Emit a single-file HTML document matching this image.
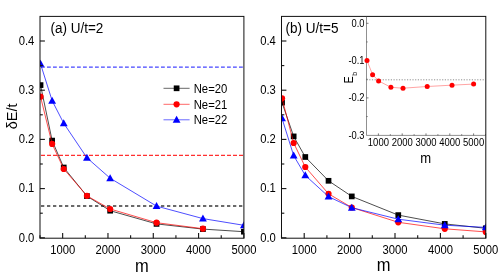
<!DOCTYPE html><html><head><meta charset="utf-8"><style>html,body{margin:0;padding:0;background:#fff}svg{display:block;filter:blur(0.45px)}text{font-family:"Liberation Sans", sans-serif;fill:#000}</style></head><body>
<svg width="498" height="277" viewBox="0 0 498 277">
<rect width="498" height="277" fill="#fff"/>
<line x1="41.0" y1="67.15" x2="243.9" y2="67.15" stroke="#4646ff" stroke-width="1.4" stroke-dasharray="3.8 2.2"/>
<line x1="41.0" y1="155.4" x2="243.9" y2="155.4" stroke="#ff3030" stroke-width="1.1" stroke-dasharray="4 2"/>
<line x1="41.0" y1="206.0" x2="243.9" y2="206.0" stroke="#3a3a3a" stroke-width="1.45" stroke-dasharray="3.3 2.7"/>
<clipPath id="cl"><rect x="40.0" y="16.4" width="203.9" height="221.79999999999998"/></clipPath>
<g clip-path="url(#cl)">
<polyline points="40.54,85.10 52.14,140.60 63.74,167.50 86.94,196.10 110.14,210.70 156.54,223.90 202.94,229.10 243.90,231.70" fill="none" stroke="#000" stroke-width="0.7"/>
<rect x="37.69" y="82.25" width="5.7" height="5.7" fill="#000"/>
<rect x="49.29" y="137.75" width="5.7" height="5.7" fill="#000"/>
<rect x="60.89" y="164.65" width="5.7" height="5.7" fill="#000"/>
<rect x="84.09" y="193.25" width="5.7" height="5.7" fill="#000"/>
<rect x="107.29" y="207.85" width="5.7" height="5.7" fill="#000"/>
<rect x="153.69" y="221.05" width="5.7" height="5.7" fill="#000"/>
<rect x="200.09" y="226.25" width="5.7" height="5.7" fill="#000"/>
<rect x="241.05" y="228.85" width="5.7" height="5.7" fill="#000"/>
<polyline points="40.54,96.70 52.14,143.90 63.74,169.00 86.94,195.80 110.14,209.00 156.54,222.70 202.94,228.70" fill="none" stroke="#f00" stroke-width="0.7"/>
<circle cx="40.54" cy="96.70" r="3.1" fill="#f00"/>
<circle cx="52.14" cy="143.90" r="3.1" fill="#f00"/>
<circle cx="63.74" cy="169.00" r="3.1" fill="#f00"/>
<circle cx="86.94" cy="195.80" r="3.1" fill="#f00"/>
<circle cx="110.14" cy="209.00" r="3.1" fill="#f00"/>
<circle cx="156.54" cy="222.70" r="3.1" fill="#f00"/>
<circle cx="202.94" cy="228.70" r="3.1" fill="#f00"/>
<polyline points="40.54,63.90 52.14,100.70 63.74,123.30 86.94,157.80 110.14,178.20 156.54,206.10 202.94,218.60 243.90,225.30" fill="none" stroke="#00f" stroke-width="0.7"/>
<path d="M40.54 59.84L44.44 66.84L36.64 66.84Z" fill="#00f"/>
<path d="M52.14 96.64L56.04 103.64L48.24 103.64Z" fill="#00f"/>
<path d="M63.74 119.24L67.64 126.24L59.84 126.24Z" fill="#00f"/>
<path d="M86.94 153.74L90.84 160.74L83.04 160.74Z" fill="#00f"/>
<path d="M110.14 174.14L114.04 181.14L106.24 181.14Z" fill="#00f"/>
<path d="M156.54 202.04L160.44 209.04L152.64 209.04Z" fill="#00f"/>
<path d="M202.94 214.54L206.84 221.54L199.04 221.54Z" fill="#00f"/>
<path d="M243.90 221.24L247.80 228.24L240.00 228.24Z" fill="#00f"/>
</g>
<rect x="40.0" y="16.4" width="203.9" height="221.79999999999998" fill="none" stroke="#111" stroke-width="1"/>
<line x1="40.0" y1="237.80" x2="44.9" y2="237.80" stroke="#111" stroke-width="1.1"/>
<text transform="translate(34.30,241.50) scale(0.865,1)" text-anchor="end" font-size="13.0" >0.0</text>
<line x1="40.0" y1="213.20" x2="42.8" y2="213.20" stroke="#111" stroke-width="1.1"/>
<line x1="40.0" y1="188.60" x2="44.9" y2="188.60" stroke="#111" stroke-width="1.1"/>
<text transform="translate(34.30,192.30) scale(0.865,1)" text-anchor="end" font-size="13.0" >0.1</text>
<line x1="40.0" y1="164.00" x2="42.8" y2="164.00" stroke="#111" stroke-width="1.1"/>
<line x1="40.0" y1="139.40" x2="44.9" y2="139.40" stroke="#111" stroke-width="1.1"/>
<text transform="translate(34.30,143.10) scale(0.865,1)" text-anchor="end" font-size="13.0" >0.2</text>
<line x1="40.0" y1="114.80" x2="42.8" y2="114.80" stroke="#111" stroke-width="1.1"/>
<line x1="40.0" y1="90.20" x2="44.9" y2="90.20" stroke="#111" stroke-width="1.1"/>
<text transform="translate(34.30,93.90) scale(0.865,1)" text-anchor="end" font-size="13.0" >0.3</text>
<line x1="40.0" y1="65.60" x2="42.8" y2="65.60" stroke="#111" stroke-width="1.1"/>
<line x1="40.0" y1="41.00" x2="44.9" y2="41.00" stroke="#111" stroke-width="1.1"/>
<text transform="translate(34.30,44.70) scale(0.865,1)" text-anchor="end" font-size="13.0" >0.4</text>
<line x1="40.00" y1="238.2" x2="40.00" y2="235.29999999999998" stroke="#111" stroke-width="1.1"/>
<line x1="62.66" y1="238.2" x2="62.66" y2="232.89999999999998" stroke="#111" stroke-width="1.1"/>
<text transform="translate(62.66,254.20) scale(0.865,1)" text-anchor="middle" font-size="13.0" >1000</text>
<line x1="85.31" y1="238.2" x2="85.31" y2="235.29999999999998" stroke="#111" stroke-width="1.1"/>
<line x1="107.97" y1="238.2" x2="107.97" y2="232.89999999999998" stroke="#111" stroke-width="1.1"/>
<text transform="translate(107.97,254.20) scale(0.865,1)" text-anchor="middle" font-size="13.0" >2000</text>
<line x1="130.62" y1="238.2" x2="130.62" y2="235.29999999999998" stroke="#111" stroke-width="1.1"/>
<line x1="153.28" y1="238.2" x2="153.28" y2="232.89999999999998" stroke="#111" stroke-width="1.1"/>
<text transform="translate(153.28,254.20) scale(0.865,1)" text-anchor="middle" font-size="13.0" >3000</text>
<line x1="175.93" y1="238.2" x2="175.93" y2="235.29999999999998" stroke="#111" stroke-width="1.1"/>
<line x1="198.59" y1="238.2" x2="198.59" y2="232.89999999999998" stroke="#111" stroke-width="1.1"/>
<text transform="translate(198.59,254.20) scale(0.865,1)" text-anchor="middle" font-size="13.0" >4000</text>
<line x1="221.24" y1="238.2" x2="221.24" y2="235.29999999999998" stroke="#111" stroke-width="1.1"/>
<line x1="243.90" y1="238.2" x2="243.90" y2="232.89999999999998" stroke="#111" stroke-width="1.1"/>
<text transform="translate(243.90,254.20) scale(0.865,1)" text-anchor="middle" font-size="13.0" >5000</text>
<text transform="translate(141.95,271.70) scale(0.877,1)" text-anchor="middle" font-size="18.8" >m</text>
<text transform="translate(50.40,32.70) scale(0.895,1)" text-anchor="start" font-size="15.1" >(a) U/t=2</text>
<text transform="translate(16.7,129.2) rotate(-90) scale(0.985,1)" font-size="14.7">δE/t</text>
<line x1="163.5" y1="88.3" x2="189.6" y2="88.3" stroke="#000" stroke-width="0.6"/>
<rect x="173.75" y="85.45" width="5.7" height="5.7" fill="#000"/>
<text transform="translate(193.70,92.60) scale(0.85,1)" text-anchor="start" font-size="13.3" >Ne=20</text>
<line x1="163.5" y1="104.3" x2="189.6" y2="104.3" stroke="#f00" stroke-width="0.6"/>
<circle cx="176.60" cy="104.30" r="3.1" fill="#f00"/>
<text transform="translate(193.70,108.60) scale(0.85,1)" text-anchor="start" font-size="13.3" >Ne=21</text>
<line x1="163.5" y1="119.8" x2="189.6" y2="119.8" stroke="#00f" stroke-width="0.6"/>
<path d="M176.60 115.74L180.50 122.74L172.70 122.74Z" fill="#00f"/>
<text transform="translate(193.70,124.10) scale(0.85,1)" text-anchor="start" font-size="13.3" >Ne=22</text>
<clipPath id="cr"><rect x="281.5" y="16.4" width="204.3" height="221.79999999999998"/></clipPath>
<g clip-path="url(#cr)">
<polyline points="282.04,102.60 293.67,136.40 305.29,157.00 328.53,180.80 351.78,196.40 398.27,215.10 444.76,223.90 485.80,228.30" fill="none" stroke="#000" stroke-width="0.7"/>
<rect x="279.19" y="99.75" width="5.7" height="5.7" fill="#000"/>
<rect x="290.82" y="133.55" width="5.7" height="5.7" fill="#000"/>
<rect x="302.44" y="154.15" width="5.7" height="5.7" fill="#000"/>
<rect x="325.68" y="177.95" width="5.7" height="5.7" fill="#000"/>
<rect x="348.93" y="193.55" width="5.7" height="5.7" fill="#000"/>
<rect x="395.42" y="212.25" width="5.7" height="5.7" fill="#000"/>
<rect x="441.91" y="221.05" width="5.7" height="5.7" fill="#000"/>
<rect x="482.95" y="225.45" width="5.7" height="5.7" fill="#000"/>
<polyline points="282.04,98.30 293.67,143.00 305.29,167.00 328.53,193.80 351.78,207.50 398.27,222.30 444.76,228.80 485.80,231.90" fill="none" stroke="#f00" stroke-width="0.7"/>
<circle cx="282.04" cy="98.30" r="3.1" fill="#f00"/>
<circle cx="293.67" cy="143.00" r="3.1" fill="#f00"/>
<circle cx="305.29" cy="167.00" r="3.1" fill="#f00"/>
<circle cx="328.53" cy="193.80" r="3.1" fill="#f00"/>
<circle cx="351.78" cy="207.50" r="3.1" fill="#f00"/>
<circle cx="398.27" cy="222.30" r="3.1" fill="#f00"/>
<circle cx="444.76" cy="228.80" r="3.1" fill="#f00"/>
<circle cx="485.80" cy="231.90" r="3.1" fill="#f00"/>
<polyline points="282.04,118.40 293.67,155.60 305.29,175.40 328.53,196.60 351.78,207.70 398.27,219.20 444.76,225.20 485.80,227.40" fill="none" stroke="#00f" stroke-width="0.7"/>
<path d="M282.04 114.34L285.94 121.34L278.14 121.34Z" fill="#00f"/>
<path d="M293.67 151.54L297.57 158.54L289.77 158.54Z" fill="#00f"/>
<path d="M305.29 171.34L309.19 178.34L301.39 178.34Z" fill="#00f"/>
<path d="M328.53 192.54L332.43 199.54L324.63 199.54Z" fill="#00f"/>
<path d="M351.78 203.64L355.68 210.64L347.88 210.64Z" fill="#00f"/>
<path d="M398.27 215.14L402.17 222.14L394.37 222.14Z" fill="#00f"/>
<path d="M444.76 221.14L448.66 228.14L440.86 228.14Z" fill="#00f"/>
<path d="M485.80 223.34L489.70 230.34L481.90 230.34Z" fill="#00f"/>
</g>
<rect x="281.5" y="16.4" width="204.3" height="221.79999999999998" fill="none" stroke="#111" stroke-width="1"/>
<line x1="281.5" y1="237.80" x2="286.4" y2="237.80" stroke="#111" stroke-width="1.1"/>
<text transform="translate(275.80,241.50) scale(0.865,1)" text-anchor="end" font-size="13.0" >0.0</text>
<line x1="281.5" y1="213.20" x2="284.3" y2="213.20" stroke="#111" stroke-width="1.1"/>
<line x1="281.5" y1="188.60" x2="286.4" y2="188.60" stroke="#111" stroke-width="1.1"/>
<text transform="translate(275.80,192.30) scale(0.865,1)" text-anchor="end" font-size="13.0" >0.1</text>
<line x1="281.5" y1="164.00" x2="284.3" y2="164.00" stroke="#111" stroke-width="1.1"/>
<line x1="281.5" y1="139.40" x2="286.4" y2="139.40" stroke="#111" stroke-width="1.1"/>
<text transform="translate(275.80,143.10) scale(0.865,1)" text-anchor="end" font-size="13.0" >0.2</text>
<line x1="281.5" y1="114.80" x2="284.3" y2="114.80" stroke="#111" stroke-width="1.1"/>
<line x1="281.5" y1="90.20" x2="286.4" y2="90.20" stroke="#111" stroke-width="1.1"/>
<text transform="translate(275.80,93.90) scale(0.865,1)" text-anchor="end" font-size="13.0" >0.3</text>
<line x1="281.5" y1="65.60" x2="284.3" y2="65.60" stroke="#111" stroke-width="1.1"/>
<line x1="281.5" y1="41.00" x2="286.4" y2="41.00" stroke="#111" stroke-width="1.1"/>
<text transform="translate(275.80,44.70) scale(0.865,1)" text-anchor="end" font-size="13.0" >0.4</text>
<line x1="281.50" y1="238.2" x2="281.50" y2="235.29999999999998" stroke="#111" stroke-width="1.1"/>
<line x1="304.20" y1="238.2" x2="304.20" y2="232.89999999999998" stroke="#111" stroke-width="1.1"/>
<text transform="translate(304.20,254.20) scale(0.865,1)" text-anchor="middle" font-size="13.0" >1000</text>
<line x1="326.90" y1="238.2" x2="326.90" y2="235.29999999999998" stroke="#111" stroke-width="1.1"/>
<line x1="349.60" y1="238.2" x2="349.60" y2="232.89999999999998" stroke="#111" stroke-width="1.1"/>
<text transform="translate(349.60,254.20) scale(0.865,1)" text-anchor="middle" font-size="13.0" >2000</text>
<line x1="372.30" y1="238.2" x2="372.30" y2="235.29999999999998" stroke="#111" stroke-width="1.1"/>
<line x1="395.00" y1="238.2" x2="395.00" y2="232.89999999999998" stroke="#111" stroke-width="1.1"/>
<text transform="translate(395.00,254.20) scale(0.865,1)" text-anchor="middle" font-size="13.0" >3000</text>
<line x1="417.70" y1="238.2" x2="417.70" y2="235.29999999999998" stroke="#111" stroke-width="1.1"/>
<line x1="440.40" y1="238.2" x2="440.40" y2="232.89999999999998" stroke="#111" stroke-width="1.1"/>
<text transform="translate(440.40,254.20) scale(0.865,1)" text-anchor="middle" font-size="13.0" >4000</text>
<line x1="463.10" y1="238.2" x2="463.10" y2="235.29999999999998" stroke="#111" stroke-width="1.1"/>
<line x1="485.80" y1="238.2" x2="485.80" y2="232.89999999999998" stroke="#111" stroke-width="1.1"/>
<text transform="translate(485.80,254.20) scale(0.865,1)" text-anchor="middle" font-size="13.0" >5000</text>
<text transform="translate(383.65,270.60) scale(0.877,1)" text-anchor="middle" font-size="18.8" >m</text>
<text transform="translate(285.50,33.10) scale(0.885,1)" text-anchor="start" font-size="15.3" >(b) U/t=5</text>
<line x1="366.5" y1="16.4" x2="366.5" y2="135.4" stroke="#444" stroke-width="0.6"/>
<line x1="366.5" y1="135.4" x2="485.8" y2="135.4" stroke="#444" stroke-width="0.6"/>
<line x1="366.5" y1="23.30" x2="368.5" y2="23.30" stroke="#222" stroke-width="0.6"/>
<text transform="translate(364.50,26.80) scale(0.85,1)" text-anchor="end" font-size="11" >0.0</text>
<line x1="366.5" y1="41.95" x2="367.7" y2="41.95" stroke="#222" stroke-width="0.6"/>
<line x1="366.5" y1="60.60" x2="368.5" y2="60.60" stroke="#222" stroke-width="0.6"/>
<text transform="translate(364.50,64.10) scale(0.85,1)" text-anchor="end" font-size="11" >-0.1</text>
<line x1="366.5" y1="79.25" x2="367.7" y2="79.25" stroke="#222" stroke-width="0.6"/>
<line x1="366.5" y1="97.90" x2="368.5" y2="97.90" stroke="#222" stroke-width="0.6"/>
<text transform="translate(364.50,101.40) scale(0.85,1)" text-anchor="end" font-size="11" >-0.2</text>
<line x1="366.5" y1="116.55" x2="367.7" y2="116.55" stroke="#222" stroke-width="0.6"/>
<text transform="translate(364.50,138.70) scale(0.85,1)" text-anchor="end" font-size="11" >-0.3</text>
<line x1="378.40" y1="135.4" x2="378.40" y2="133.4" stroke="#222" stroke-width="0.6"/>
<text transform="translate(378.40,145.80) scale(0.95,1)" text-anchor="middle" font-size="10" >1000</text>
<line x1="390.30" y1="135.4" x2="390.30" y2="134.20000000000002" stroke="#222" stroke-width="0.6"/>
<line x1="402.20" y1="135.4" x2="402.20" y2="133.4" stroke="#222" stroke-width="0.6"/>
<text transform="translate(402.20,145.80) scale(0.95,1)" text-anchor="middle" font-size="10" >2000</text>
<line x1="414.10" y1="135.4" x2="414.10" y2="134.20000000000002" stroke="#222" stroke-width="0.6"/>
<line x1="426.00" y1="135.4" x2="426.00" y2="133.4" stroke="#222" stroke-width="0.6"/>
<text transform="translate(426.00,145.80) scale(0.95,1)" text-anchor="middle" font-size="10" >3000</text>
<line x1="437.90" y1="135.4" x2="437.90" y2="134.20000000000002" stroke="#222" stroke-width="0.6"/>
<line x1="449.80" y1="135.4" x2="449.80" y2="133.4" stroke="#222" stroke-width="0.6"/>
<text transform="translate(449.80,145.80) scale(0.95,1)" text-anchor="middle" font-size="10" >4000</text>
<line x1="461.70" y1="135.4" x2="461.70" y2="134.20000000000002" stroke="#222" stroke-width="0.6"/>
<line x1="473.60" y1="135.4" x2="473.60" y2="133.4" stroke="#222" stroke-width="0.6"/>
<text transform="translate(473.60,145.80) scale(0.95,1)" text-anchor="middle" font-size="10" >5000</text>
<line x1="485.50" y1="135.4" x2="485.50" y2="134.20000000000002" stroke="#222" stroke-width="0.6"/>
<text transform="translate(425.70,162.50) scale(0.86,1)" text-anchor="middle" font-size="15.2" >m</text>
<line x1="366.5" y1="79.8" x2="485.8" y2="79.8" stroke="#555" stroke-width="0.65" stroke-dasharray="1.2 1.5"/>
<polyline points="367.00,60.60 372.60,74.70 378.60,80.90 390.90,87.30 403.00,88.20 427.20,86.50 452.00,85.15 473.60,84.10" fill="none" stroke="#f33" stroke-width="0.45"/>
<g>
<circle cx="367.00" cy="60.60" r="2.5" fill="#f00"/>
<circle cx="372.60" cy="74.70" r="2.5" fill="#f00"/>
<circle cx="378.60" cy="80.90" r="2.5" fill="#f00"/>
<circle cx="390.90" cy="87.30" r="2.5" fill="#f00"/>
<circle cx="403.00" cy="88.20" r="2.5" fill="#f00"/>
<circle cx="427.20" cy="86.50" r="2.5" fill="#f00"/>
<circle cx="452.00" cy="85.15" r="2.5" fill="#f00"/>
<circle cx="473.60" cy="84.10" r="2.5" fill="#f00"/>
</g>
<text transform="translate(353.2,83.6) rotate(-90) scale(0.89,1)" font-size="12.3">E</text>
<text transform="translate(357.0,75.7) rotate(-90) scale(0.9,1)" font-size="7.6">b</text>
</svg></body></html>
